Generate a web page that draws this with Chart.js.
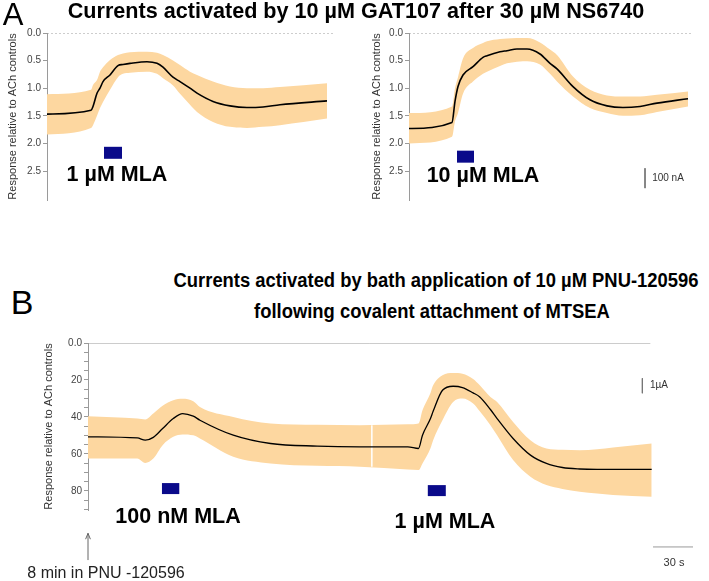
<!DOCTYPE html>
<html>
<head>
<meta charset="utf-8">
<script src="https://cdn.jsdelivr.net/npm/chart.js@4.4.0/dist/chart.umd.min.js"></script>
<style>
    body { margin: 0; background: #fff; }
    #fig { position: relative; width: 709px; height: 581px; overflow: hidden; font-family: "Liberation Sans", Arial, sans-serif; }
    canvas { position: absolute; }
    .t { position: absolute; white-space: nowrap; line-height: 1; transform: translate(-50%, -50%); color: #000; }
    .mla { font-weight: bold; font-size: 21.5px; }
    .scale { font-size: 10px; color: #333; }
    .titleB { font-weight: bold; font-size: 20px; transform: translate(-50%, -50%) scaleX(0.92); }
</style>
</head>
<body>
<div id="fig">
    <canvas id="chartA1" width="336" height="195" style="left:0px;top:13px"></canvas>
    <canvas id="chartA2" width="330" height="195" style="left:366px;top:13px"></canvas>
    <canvas id="chartB" width="671" height="251" style="left:38px;top:330px"></canvas>

    <div class="t" style="left:13px;top:14px;font-size:31px;">A</div>
    <div class="t" style="left:356px;top:11px;font-size:21.6px;font-weight:bold;">Currents activated by 10 µM GAT107 after 30 µM NS6740</div>
    <div class="t mla" style="left:117px;top:175px;">1 µM MLA</div>
    <div class="t mla" style="left:483px;top:176px;">10 µM MLA</div>
    <div class="t scale" style="left:668px;top:178px;">100 nA</div>

    <div class="t" style="left:22px;top:302px;font-size:34px;">B</div>
    <div class="t titleB" style="left:436px;top:280px;">Currents activated by bath application of 10 µM PNU-120596</div>
    <div class="t titleB" style="left:432px;top:311px;">following covalent attachment of MTSEA</div>
    <div class="t mla" style="left:178px;top:517px;">100 nM MLA</div>
    <div class="t mla" style="left:445px;top:522px;">1 µM MLA</div>
    <div class="t scale" style="left:659px;top:385px;">1µA</div>
    <div class="t scale" style="left:674px;top:562px;font-size:11px;">30 s</div>
    <div class="t" style="left:106px;top:573px;font-size:16px;color:#222;">8 min in PNU -120596</div>
</div>

<script>
// ---- Panel A, left: 10 µM GAT107 after NS6740, then 1 µM MLA ----
const aLeftTime  = [0, 44, 46, 50, 53, 56, 63, 71, 76, 83, 100, 110, 116, 126, 133, 143, 150, 166, 183, 200, 216, 233, 280];
const aLeftMean  = [1.47, 1.40, 1.33, 1.09, 1.00, 0.88, 0.76, 0.59, 0.57, 0.55, 0.52, 0.55, 0.62, 0.80, 0.88, 1.00, 1.09, 1.24, 1.32, 1.35, 1.34, 1.30, 1.23];
const aLeftUpper = [1.11, 1.03, 0.94, 0.85, 0.70, 0.62, 0.49, 0.40, 0.37, 0.35, 0.34, 0.36, 0.40, 0.50, 0.58, 0.70, 0.76, 0.88, 0.97, 1.00, 1.00, 0.98, 0.91];
const aLeftLower = [1.84, 1.72, 1.67, 1.50, 1.36, 1.25, 1.03, 0.80, 0.74, 0.72, 0.70, 0.74, 0.82, 0.95, 1.10, 1.30, 1.43, 1.61, 1.70, 1.72, 1.70, 1.67, 1.55];
const aLeftMla = [57, 75];
const aLeftMlaLevel = 2.17;

// ---- Panel A, right: same, then 10 µM MLA ----
const aRightTime  = [0, 43, 46, 49, 54, 64, 74, 78, 91, 98, 108, 114, 118, 131, 141, 148, 164, 181, 198, 214, 231, 248, 279];
const aRightMean  = [1.73, 1.62, 1.24, 0.97, 0.76, 0.61, 0.44, 0.41, 0.34, 0.32, 0.29, 0.29, 0.29, 0.38, 0.55, 0.65, 0.97, 1.21, 1.32, 1.35, 1.33, 1.27, 1.19];
const aRightUpper = [1.45, 1.33, 1.00, 0.80, 0.46, 0.27, 0.18, 0.15, 0.11, 0.10, 0.09, 0.09, 0.09, 0.17, 0.30, 0.40, 0.79, 1.03, 1.13, 1.15, 1.15, 1.12, 1.06];
const aRightLower = [2.00, 1.88, 1.60, 1.45, 1.10, 0.88, 0.74, 0.70, 0.60, 0.55, 0.52, 0.51, 0.51, 0.57, 0.74, 0.88, 1.15, 1.36, 1.45, 1.50, 1.49, 1.43, 1.33];
const aRightMla = [48, 65];
const aRightMlaLevel = 2.24;
const aRightScaleBar = [2.45, 2.81];   // 100 nA
const aRightScaleBarTime = 236;

const aTicks = [0, 0.5, 1, 1.5, 2, 2.5];

// ---- Panel B: 10 µM PNU-120596 after MTSEA (time in s) ----
const bTime  = [0, 37, 43, 49, 56, 64, 71, 79, 84, 109, 137, 172, 204, 240, 248, 251, 257, 259, 266, 274, 281, 289, 294, 302, 307, 319, 332, 344, 356, 369, 382, 394, 423];
const bMean  = [50.8, 51.4, 52.6, 51.1, 46.3, 40.9, 38.2, 39.6, 41.8, 49.9, 54.4, 55.8, 56.2, 56.2, 57.1, 49.9, 40.9, 37.0, 25.6, 23.4, 24.1, 27.0, 29.2, 36.0, 40.9, 51.7, 60.7, 65.2, 67.4, 68.2, 68.4, 68.4, 68.4];
const bUpper = [39.6, 40.9, 41.4, 38.2, 34.0, 31.0, 30.2, 31.5, 34.6, 40.0, 43.6, 44.3, 44.5, 44.0, 43.6, 36.4, 27.0, 22.9, 17.5, 16.2, 16.6, 19.5, 22.9, 29.2, 31.9, 42.7, 52.6, 57.1, 57.8, 58.0, 57.5, 56.5, 54.4];
const bLower = [62.5, 62.5, 64.9, 62.5, 55.3, 50.8, 49.5, 50.0, 51.7, 61.6, 65.2, 66.5, 67.0, 68.5, 68.8, 65.2, 57.0, 52.6, 41.8, 31.9, 30.1, 32.8, 37.0, 44.5, 50.0, 63.4, 72.4, 76.9, 79.0, 80.5, 81.5, 82.3, 83.2];
const bMla1 = [55.5, 68.5];
const bMla1Level = 78.8;
const bMla2 = [255, 268.5];
const bMla2Level = 79.9;
const bRecordEnd = 422;
const bSweepBreak = 213;            // white break in the record
const bSweepBreakSpan = [44.5, 67];
const bCurrentBar = [19.1, 27.2];   // 1 µA
const bCurrentBarTime = 416;
const bTimeBar = [424, 454];        // 30 s
const bTimeBarLevel = 110.4;
const bArrow = [117.5, 103];        // "8 min in PNU" marker at t = 0
const bArrowHeadTime = [-1.8, 0, 1.8];
const bArrowHeadLevel = [106.2, 103, 106.2];

const bTicks = [0, 20, 40, 60, 80];

const FONT = '"Liberation Sans", Arial, sans-serif';
const BAND = 'rgb(253, 215, 160)';
const MLA_BLUE = '#0a0a8a';
const AXIS_GREY = '#9a9a9a';

function pts(xs, ys) {
    return xs.map(function(x, i) { return { x: x, y: ys[i] }; });
}

function hLine(range, level, color, width, extra) {
    return Object.assign({
        data: [{ x: range[0], y: level }, { x: range[1], y: level }],
        borderColor: color, borderWidth: width, borderCapStyle: 'butt',
        pointRadius: 0, fill: false
    }, extra || {});
}

function vLine(t, span, color, width, extra) {
    return Object.assign({
        data: [{ x: t, y: span[0] }, { x: t, y: span[1] }],
        borderColor: color, borderWidth: width, borderCapStyle: 'butt',
        pointRadius: 0, fill: false
    }, extra || {});
}

function traceChart(id, cfg) {
    const datasets = [
        {
            data: pts(cfg.time, cfg.mean),
            borderColor: '#000', borderWidth: cfg.lineWidth,
            pointRadius: 0, cubicInterpolationMode: 'monotone', fill: false
        }
    ].concat(cfg.extra, [
        {
            data: pts(cfg.time, cfg.upper),
            borderColor: 'rgba(0,0,0,0)', borderWidth: 0, backgroundColor: BAND,
            pointRadius: 0, cubicInterpolationMode: 'monotone', fill: '+1'
        },
        {
            data: pts(cfg.time, cfg.lower),
            borderColor: 'rgba(0,0,0,0)', borderWidth: 0,
            pointRadius: 0, cubicInterpolationMode: 'monotone', fill: false
        }
    ]);

    return new Chart(document.getElementById(id), {
        type: 'line',
        data: { datasets: datasets },
        options: {
            responsive: false,
            animation: false,
            devicePixelRatio: 1,
            events: [],
            layout: { padding: cfg.padding },
            plugins: { legend: { display: false }, tooltip: { enabled: false } },
            scales: {
                x: { type: 'linear', display: false, min: 0, max: cfg.xMax },
                y: {
                    reverse: true,
                    min: 0,
                    max: cfg.yMax,
                    afterFit: function(scale) { scale.width = cfg.axisWidth; },
                    afterBuildTicks: function(scale) {
                        scale.ticks = cfg.tickValues.map(function(v) { return { value: v }; });
                    },
                    ticks: {
                        autoSkip: false,
                        callback: cfg.tickLabel,
                        font: { family: FONT, size: 10 },
                        color: '#444',
                        padding: 2
                    },
                    grid: { drawOnChartArea: false, tickLength: 4, color: AXIS_GREY },
                    border: { color: AXIS_GREY, width: 1 },
                    title: {
                        display: true,
                        text: 'Response relative to ACh controls',
                        font: { family: FONT, size: 11 },
                        color: '#333',
                        padding: { top: cfg.titlePad, bottom: 0 }
                    }
                }
            }
        }
    });
}

// Panel A left
traceChart('chartA1', {
    time: aLeftTime, mean: aLeftMean, upper: aLeftUpper, lower: aLeftLower,
    lineWidth: 1.6, xMax: 286, yMax: 3.025, axisWidth: 47, titlePad: 6,
    padding: { top: 20, bottom: 8, left: 0, right: 3 },
    tickValues: aTicks,
    tickLabel: function(v) { return Number(v).toFixed(1); },
    extra: [
        hLine([0, 286], 0, AXIS_GREY, 1, { borderDash: [2, 2] }),
        hLine(aLeftMla, aLeftMlaLevel, MLA_BLUE, 12)
    ]
});

// Panel A right
traceChart('chartA2', {
    time: aRightTime, mean: aRightMean, upper: aRightUpper, lower: aRightLower,
    lineWidth: 1.6, xMax: 284, yMax: 3.025, axisWidth: 43, titlePad: 4.4,
    padding: { top: 20, bottom: 8, left: 0, right: 3 },
    tickValues: aTicks,
    tickLabel: function(v) { return Number(v).toFixed(1); },
    extra: [
        hLine([0, 284], 0, AXIS_GREY, 1, { borderDash: [2, 2] }),
        hLine(aRightMla, aRightMlaLevel, MLA_BLUE, 12),
        vLine(aRightScaleBarTime, aRightScaleBar, '#777', 1)
    ]
});

// Panel B
const bMinorTicks = [];
for (let v = 0; v <= 90; v += 5) bMinorTicks.push(v);

traceChart('chartB', {
    time: bTime, mean: bMean, upper: bUpper, lower: bLower,
    lineWidth: 1.3, xMax: 454, yMax: 90.4, axisWidth: 50, titlePad: 4.4,
    padding: { top: 13, bottom: 71, left: 0, right: 16 },
    tickValues: bMinorTicks,
    tickLabel: function(v) {
        if (!bTicks.includes(v)) return '';
        return v === 0 ? '0.0' : String(v);
    },
    extra: [
        hLine([0, bRecordEnd], 0, AXIS_GREY, 1),
        vLine(bSweepBreak, bSweepBreakSpan, '#fff', 1.5),
        hLine(bMla1, bMla1Level, MLA_BLUE, 11),
        hLine(bMla2, bMla2Level, MLA_BLUE, 11),
        vLine(bCurrentBarTime, bCurrentBar, '#777', 1),
        hLine(bTimeBar, bTimeBarLevel, '#999', 1, { clip: false }),
        vLine(0, bArrow, '#666', 1, { clip: false }),
        {
            data: pts(bArrowHeadTime, bArrowHeadLevel),
            borderColor: '#666', borderWidth: 1, pointRadius: 0,
            fill: false, clip: false
        }
    ]
});
</script>
</body>
</html>
